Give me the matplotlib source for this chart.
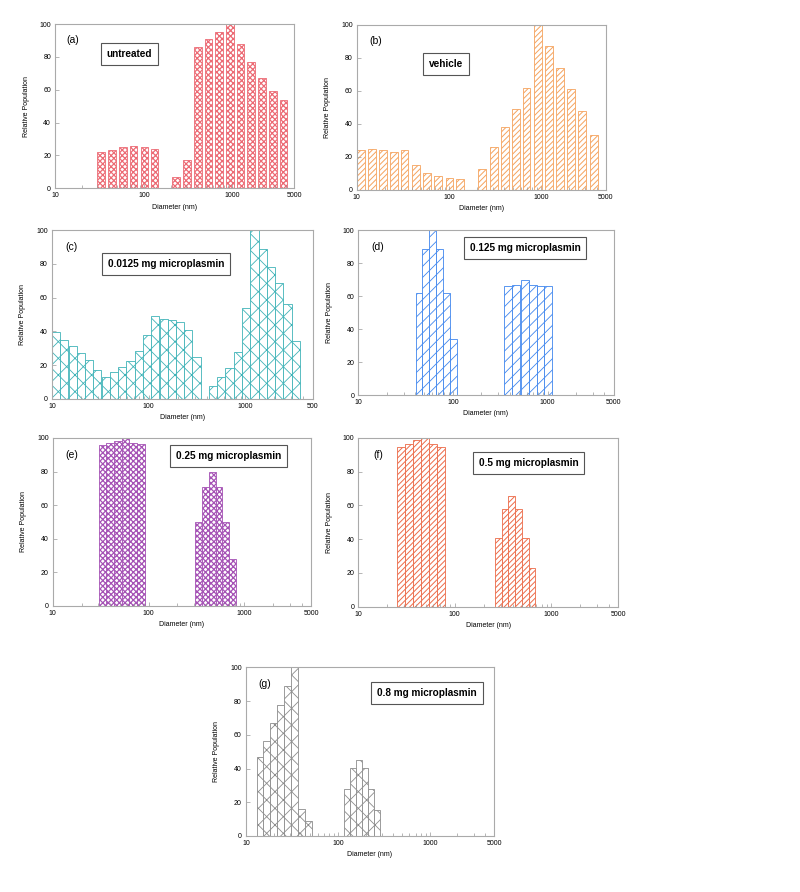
import numpy as np
import matplotlib
matplotlib.use("Agg")
import matplotlib.pyplot as plt
from matplotlib.ticker import FixedLocator, NullFormatter

plt.rcParams['font.family'] = ['Liberation Sans', 'DejaVu Sans']

# bin centres (nm) and relative population
a_diam = [33, 44, 58, 76, 101, 132, 231, 306, 407, 538, 711, 940, 1233, 1630, 2153, 2850, 3767]
a_pop = [22, 23.5, 25, 26, 25, 24, 7, 17, 86, 91, 95, 100, 88, 77, 67, 59, 54]

b_diam = [11, 14.5, 19.2, 25.4, 33, 43.6, 57.5, 76, 101, 132,
          229, 305, 402, 530, 692, 920, 1215, 1600, 2110, 2800, 3700]
b_pop = [24, 25, 24, 23, 24, 15, 10, 8.5, 7, 6.5,
         13, 26, 38, 49, 62, 100, 87, 74, 61.5, 48, 33.5]

c_diam = [11.0, 13.4, 16.4, 19.9, 24.3, 29.5, 36.0, 43.8, 53.3, 64.9, 79.1, 96.2,
          117, 143, 174, 211, 258, 313,
          465, 566, 689, 839, 1021, 1244, 1514, 1844, 2245, 2733, 3327]
c_pop = [39.5, 35, 31, 27, 23, 17, 13, 16, 18.7, 22.6, 28.3, 38,
         49, 47, 46.5, 45.5, 40.5, 25,
         7.7, 13, 18, 27.7, 53.6, 100, 88.8, 78.4, 68.4, 56, 34.4]

d_diam = [43.7, 51.5, 61, 72.1, 85.3, 100.7, 386, 469, 573, 696, 842, 1019]
d_pop = [62, 88.7, 100, 88.7, 62, 34.3, 66, 67, 70, 67, 66, 66]

e_diam = [33.0, 39.7, 47.9, 57.5, 69.2, 83.4, 334, 393, 462, 543, 640, 752]
e_pop = [96, 97, 98.4, 100, 97.2, 96.2, 50, 71, 80, 71, 50, 27.8]

f_diam = [27.7, 33.4, 40.5, 48.9, 59.0, 71.4, 284, 333, 391, 459, 540, 632]
f_pop = [94.5, 96.6, 98.6, 100, 96.6, 94.9, 40.4, 57.8, 65.3, 57.8, 40.4, 22.7]

g_diam = [14.2, 16.8, 20.0, 23.8, 28.3, 33.7, 40.1, 47.7,
          124.5, 144.9, 168.7, 196.3, 228.6, 266]
g_pop = [47, 56.4, 67, 77.4, 89, 100, 16, 9,
         27.7, 40.2, 45, 40.2, 27.7, 15.4]

xtick_vals = [10, 100, 1000, 5000]
xtick_labels = ['10', '100', '1000', '5000']


def draw_panel(rect, diam, pop, color, hatch, fill, letter, label, box_xy,
               xlabels=xtick_labels, hatch_lw=0.6):
    ax = fig.add_axes(rect)
    logd = np.log10(diam)
    # each bar's width in decades = spacing to its closest neighbour
    gaps = np.diff(logd)
    w = np.minimum(np.r_[gaps[0], gaps], np.r_[gaps, gaps[-1]]) * fill
    left = 10 ** (logd - w / 2)
    right = 10 ** (logd + w / 2)
    with plt.rc_context({'hatch.linewidth': hatch_lw}):
        ax.bar(left, pop, width=right - left, align='edge', facecolor='white',
               edgecolor=color, hatch=hatch, linewidth=0.6)
    ax.set_xscale('log')
    ax.set_xlim(10, 5000)
    ax.set_ylim(0, 100)
    ax.xaxis.set_major_locator(FixedLocator(xtick_vals))
    ax.set_xticklabels(xlabels)
    minors = [m * 10 ** e for e in (1, 2, 3) for m in range(2, 10) if m * 10 ** e < 5000]
    ax.xaxis.set_minor_locator(FixedLocator(minors))
    ax.xaxis.set_minor_formatter(NullFormatter())
    ax.set_yticks([0, 20, 40, 60, 80, 100])
    ax.tick_params(which='both', direction='in', labelsize=5, color='#999999',
                   length=3, width=0.5, pad=3)
    ax.tick_params(which='minor', length=2)
    for s in ax.spines.values():
        s.set_color('#aaaaaa')
        s.set_linewidth(0.8)
    ax.set_xlabel('Diameter (nm)', fontsize=5, labelpad=3)
    ax.set_ylabel('Relative Population', fontsize=5, labelpad=7)
    ax.text(0.075, 0.9, letter, transform=ax.transAxes, fontsize=7.5,
            ha='center', va='center')
    ax.text(box_xy[0], box_xy[1], label, transform=ax.transAxes, fontsize=7.2,
            fontweight='bold', ha='center', va='center',
            bbox=dict(boxstyle='square,pad=0.6', facecolor='white',
                      edgecolor='#555555', linewidth=0.8))
    return ax


fig = plt.figure(figsize=(8, 8.92), dpi=100)

draw_panel([0.069, 0.789, 0.299, 0.184], a_diam, a_pop, '#ec6a74', 'xxxxxx', 0.72,
           '(a)', 'untreated', (0.31, 0.82), hatch_lw=0.9)
draw_panel([0.446, 0.787, 0.311, 0.185], b_diam, b_pop, '#f5a35e', '//////', 0.72,
           '(b)', 'vehicle', (0.36, 0.765), hatch_lw=0.7)
draw_panel([0.065, 0.553, 0.326, 0.189], c_diam, c_pop, '#3fb3b8', 'xx', 1.0,
           '(c)', '0.0125 mg microplasmin', (0.436, 0.80),
           xlabels=['10', '100', '1000', '500'])
draw_panel([0.448, 0.557, 0.319, 0.185], d_diam, d_pop, '#3f86ee', '///', 1.0,
           '(d)', '0.125 mg microplasmin', (0.653, 0.894))
draw_panel([0.066, 0.321, 0.323, 0.188], e_diam, e_pop, '#a552b5', 'xxxxxx', 1.0,
           '(e)', '0.25 mg microplasmin', (0.68, 0.89), hatch_lw=0.9)
draw_panel([0.448, 0.320, 0.325, 0.189], f_diam, f_pop, '#ec6a48', '//////', 1.0,
           '(f)', '0.5 mg microplasmin', (0.654, 0.85), hatch_lw=0.7)
draw_panel([0.3075, 0.0628, 0.31, 0.189], g_diam, g_pop, '#8c8c8c', 'xx', 1.0,
           '(g)', '0.8 mg microplasmin', (0.73, 0.846))

fig.savefig('out.png', dpi=100)
